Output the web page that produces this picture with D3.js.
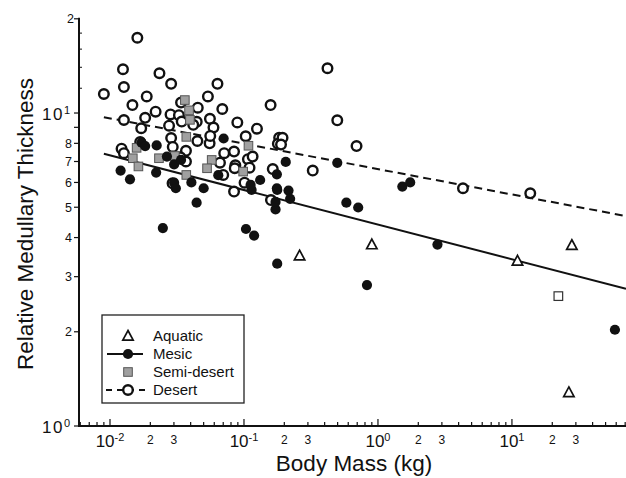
<!DOCTYPE html>
<html>
<head>
<meta charset="utf-8">
<script src="https://d3js.org/d3.v7.min.js"></script>
<style>
  body { margin: 0; background: #fff; }
  text { font-family: "Liberation Sans", Arial, Helvetica, sans-serif; fill: #111; }
</style>
</head>
<body>
<svg id="chart" width="626" height="478"></svg>
<script>
// body mass (kg), relative medullary thickness
var desert = [
  [0.016, 17.4], [0.0125, 13.8], [0.0234, 13.4], [0.0286, 12.4], [0.0127, 12.1],
  [0.0634, 12.4], [0.0090, 11.5], [0.0188, 11.3], [0.0538, 11.3], [0.0147, 10.6],
  [0.0219, 10.1], [0.0689, 10.3], [0.0452, 10.4], [0.0339, 10.8], [0.158, 10.6],
  [0.0183, 9.65], [0.0283, 9.9], [0.0327, 9.84], [0.0127, 9.5], [0.0171, 8.94],
  [0.0276, 9.11], [0.0343, 9.39], [0.0444, 9.37], [0.0557, 9.58], [0.0592, 8.99],
  [0.0892, 9.33], [0.125, 8.91], [0.0418, 9.17], [0.0286, 8.32], [0.0449, 8.14],
  [0.0554, 8.0], [0.056, 8.45], [0.103, 8.43], [0.0843, 7.53], [0.0712, 7.44],
  [0.0122, 7.69], [0.0127, 7.44], [0.0168, 8.08], [0.0294, 7.79], [0.0369, 7.57],
  [0.0335, 7.22], [0.0369, 7.0], [0.0662, 6.94], [0.0862, 6.81], [0.107, 7.12],
  [0.116, 7.26], [0.0853, 6.66], [0.070, 6.34], [0.110, 6.69], [0.164, 6.62],
  [0.183, 8.33], [0.179, 7.97], [0.0843, 5.61], [0.0293, 5.96], [0.101, 5.99],
  [0.159, 5.27], [0.42, 13.9], [0.497, 9.48], [0.194, 8.33], [0.189, 7.93],
  [0.692, 7.84], [0.326, 6.55], [4.31, 5.75], [13.7, 5.54]
];
var mesic = [
  [0.0120, 6.55], [0.0141, 6.14], [0.0172, 8.04], [0.0183, 7.84], [0.0223, 7.88],
  [0.0221, 6.45], [0.0301, 5.99], [0.031, 5.75], [0.0405, 6.0], [0.0443, 5.17],
  [0.050, 5.75], [0.0643, 6.33], [0.0301, 6.85], [0.0339, 7.08], [0.0266, 7.26],
  [0.0705, 8.29], [0.114, 5.68], [0.132, 6.11], [0.112, 5.89], [0.176, 5.75],
  [0.172, 4.92], [0.0248, 4.29], [0.1035, 4.26], [0.119, 4.06], [0.177, 3.30],
  [0.205, 6.98], [0.497, 6.93], [0.176, 6.37], [0.177, 5.68], [0.215, 5.65],
  [0.221, 5.32], [0.172, 5.20], [0.581, 5.17], [0.712, 4.99], [1.52, 5.82],
  [1.74, 6.0], [2.78, 3.80], [0.828, 2.82], [58.7, 2.03]
];
var semiDesert = [
  [0.0362, 11.0], [0.0389, 10.2], [0.0395, 9.51], [0.0371, 8.39], [0.0158, 7.74],
  [0.0148, 7.17], [0.0163, 6.75], [0.0232, 7.17], [0.0305, 7.29], [0.0574, 7.08],
  [0.053, 6.66], [0.0371, 6.34], [0.108, 7.86], [0.0986, 6.5]
];
var semiDesertOpen = [[22.2, 2.60]];
var aquatic = [[0.26, 3.50], [0.90, 3.80], [11.0, 3.37], [28.0, 3.78], [26.6, 1.28]];

// power-law fits y = a * x^b
var mesicFit = [4.40, -0.1106];
var desertFit = [6.62, -0.0811];
var fitRange = [0.009, 71];

var xMajor = [0.01, 0.1, 1, 10];
var xMajorExp = ["-2", "-1", "0", "1"];
var xMinorLabels = [0.02, 0.03, 0.2, 0.3, 2, 3, 20, 30];
var yPlainLabels = [2, 3, 4, 5, 6, 7, 8];
var yPowerTicks = [1, 10];
var yPowerExp = ["0", "1"];
var legendItems = ["Aquatic", "Mesic", "Semi-desert", "Desert"];

var svg = d3.select("#chart");
var x = d3.scaleLog().domain([0.00587, 71]).range([79, 626]);
var y = d3.scaleLog().domain([1, 20]).range([426, 18.8]);

// ### AXES
var xTicks = [];
[0.001, 0.01, 0.1, 1, 10].forEach(function(p) {
  for (var k = 1; k < 10; k++) {
    var v = p * k;
    if (v >= 0.00587 && v <= 71) xTicks.push(v);
  }
});
svg.append("g").selectAll("line").data(xTicks).enter().append("line")
  .attr("x1", function(d) { return x(d); })
  .attr("x2", function(d) { return x(d); })
  .attr("y1", 426)
  .attr("y2", function(d) { return xMajor.indexOf(d) >= 0 ? 419 : 422; })
  .attr("stroke", "#111").attr("stroke-width", 1.2);

svg.append("line")
  .attr("x1", x.range()[0]).attr("x2", x.range()[1])
  .attr("y1", 426).attr("y2", 426)
  .attr("stroke", "#111").attr("stroke-width", 2);

var yTicks = [1, 2, 3, 4, 5, 6, 7, 8, 9, 10, 20];
svg.append("g").selectAll("line").data(yTicks).enter().append("line")
  .attr("x1", 74).attr("x2", 79)
  .attr("y1", function(d) { return y(d); })
  .attr("y2", function(d) { return y(d); })
  .attr("stroke", "#111").attr("stroke-width", 1.2);
svg.append("g").selectAll("line").data([12, 14, 16, 18]).enter().append("line")
  .attr("x1", 79).attr("x2", 82)
  .attr("y1", function(d) { return y(d); })
  .attr("y2", function(d) { return y(d); })
  .attr("stroke", "#111").attr("stroke-width", 1);

svg.append("line")
  .attr("x1", 79).attr("x2", 79)
  .attr("y1", y(20) - 1).attr("y2", 427)
  .attr("stroke", "#111").attr("stroke-width", 2);

// x tick labels
var xl = svg.append("g").selectAll("text").data(xMajor).enter().append("text")
  .attr("x", function(d) { return x(d); })
  .attr("y", 447)
  .attr("text-anchor", "middle")
  .style("font-size", "17px");
xl.append("tspan").text("10");
xl.append("tspan").attr("dy", "-0.55em").style("font-size", "11px")
  .text(function(d, i) { return xMajorExp[i]; });

svg.append("g").selectAll("text").data(xMinorLabels).enter().append("text")
  .attr("x", function(d) { return x(d); })
  .attr("y", 444)
  .attr("text-anchor", "middle")
  .style("font-size", "12px")
  .text(function(d) { return String(d).replace(/[0.]/g, "").slice(0, 1); });

// y tick labels
svg.append("g").selectAll("text").data(yPlainLabels).enter().append("text")
  .attr("x", 72)
  .attr("y", function(d) { return y(d); })
  .attr("dy", "0.36em")
  .attr("text-anchor", "end")
  .style("font-size", "12.5px")
  .text(function(d) { return d; });
svg.append("text")
  .attr("x", 74).attr("y", y(20)).attr("dy", "0.36em")
  .attr("text-anchor", "end").style("font-size", "12.5px").text("2");

var yl = svg.append("g").selectAll("text").data(yPowerTicks).enter().append("text")
  .attr("x", 70)
  .attr("y", function(d) { return y(d); })
  .attr("dy", "0.42em")
  .attr("text-anchor", "end")
  .style("font-size", "17px");
yl.append("tspan").attr("letter-spacing", "1.5px").text("10");
yl.append("tspan").attr("dy", "-0.55em").style("font-size", "11px")
  .text(function(d, i) { return yPowerExp[i]; });

// axis titles
svg.append("text")
  .attr("x", 354).attr("y", 471)
  .attr("text-anchor", "middle")
  .style("font-size", "22.5px")
  .text("Body Mass (kg)");
svg.append("text")
  .attr("transform", "translate(33,224) rotate(-90)")
  .attr("text-anchor", "middle")
  .style("font-size", "22.5px")
  .text("Relative Medullary Thickness");

// ### FIT LINES
var line = d3.line()
  .x(function(d) { return x(d[0]); })
  .y(function(d) { return y(d[1]); });
function fitPoints(f) {
  return fitRange.map(function(m) { return [m, f[0] * Math.pow(m, f[1])]; });
}
svg.append("path").datum(fitPoints(mesicFit))
  .attr("d", line).attr("fill", "none")
  .attr("stroke", "#111").attr("stroke-width", 2);
svg.append("path").datum(fitPoints(desertFit))
  .attr("d", line).attr("fill", "none")
  .attr("stroke", "#111").attr("stroke-width", 2)
  .attr("stroke-dasharray", "8,5");

// ### MARKERS
function openCircle(g) {
  g.append("circle").attr("r", 4.8)
    .attr("fill", "#fff").attr("stroke", "#111").attr("stroke-width", 2.4);
}
function filledCircle(g) {
  g.append("circle").attr("r", 5.1).attr("fill", "#111");
}
function square(g) {
  g.append("rect").attr("x", -4.3).attr("y", -4.3).attr("width", 8.6).attr("height", 8.6)
    .attr("fill", "#a0a0a0").attr("stroke", "#555").attr("stroke-width", 1);
}
function openSquare(g) {
  g.append("rect").attr("x", -4.3).attr("y", -4.3).attr("width", 8.6).attr("height", 8.6)
    .attr("fill", "#fff").attr("stroke", "#333").attr("stroke-width", 1.2);
}
function triangle(g) {
  g.append("path").attr("d", "M0,-5.5L5.2,4.2L-5.2,4.2Z")
    .attr("fill", "#fff").attr("stroke", "#111").attr("stroke-width", 1.7);
}

function plot(data, draw) {
  var g = svg.append("g").selectAll("g").data(data).enter().append("g")
    .attr("transform", function(d) { return "translate(" + x(d[0]) + "," + y(d[1]) + ")"; });
  draw(g);
}
plot(desert, openCircle);
plot(semiDesert, square);
plot(semiDesertOpen, openSquare);
plot(mesic, filledCircle);
plot(aquatic, triangle);

// ### LEGEND
var lg = svg.append("g");
lg.append("rect")
  .attr("x", 102).attr("y", 315).attr("width", 142).attr("height", 88)
  .attr("fill", "#fff").attr("stroke", "#222").attr("stroke-width", 1.3);
var rowY = d3.scalePoint().domain(legendItems).range([336, 390]);
lg.append("line").attr("x1", 107).attr("x2", 143)
  .attr("y1", rowY("Mesic")).attr("y2", rowY("Mesic"))
  .attr("stroke", "#111").attr("stroke-width", 2);
lg.append("line").attr("x1", 106).attr("x2", 150)
  .attr("y1", rowY("Desert")).attr("y2", rowY("Desert"))
  .attr("stroke", "#111").attr("stroke-width", 2).attr("stroke-dasharray", "6,5");
var markerFor = { "Aquatic": triangle, "Mesic": filledCircle, "Semi-desert": square, "Desert": openCircle };
legendItems.forEach(function(name) {
  var g = lg.append("g").attr("transform", "translate(128," + rowY(name) + ")");
  markerFor[name](g);
  lg.append("text").attr("x", 153).attr("y", rowY(name)).attr("dy", "0.36em")
    .style("font-size", "15px").text(name);
});
</script>
</body>
</html>
